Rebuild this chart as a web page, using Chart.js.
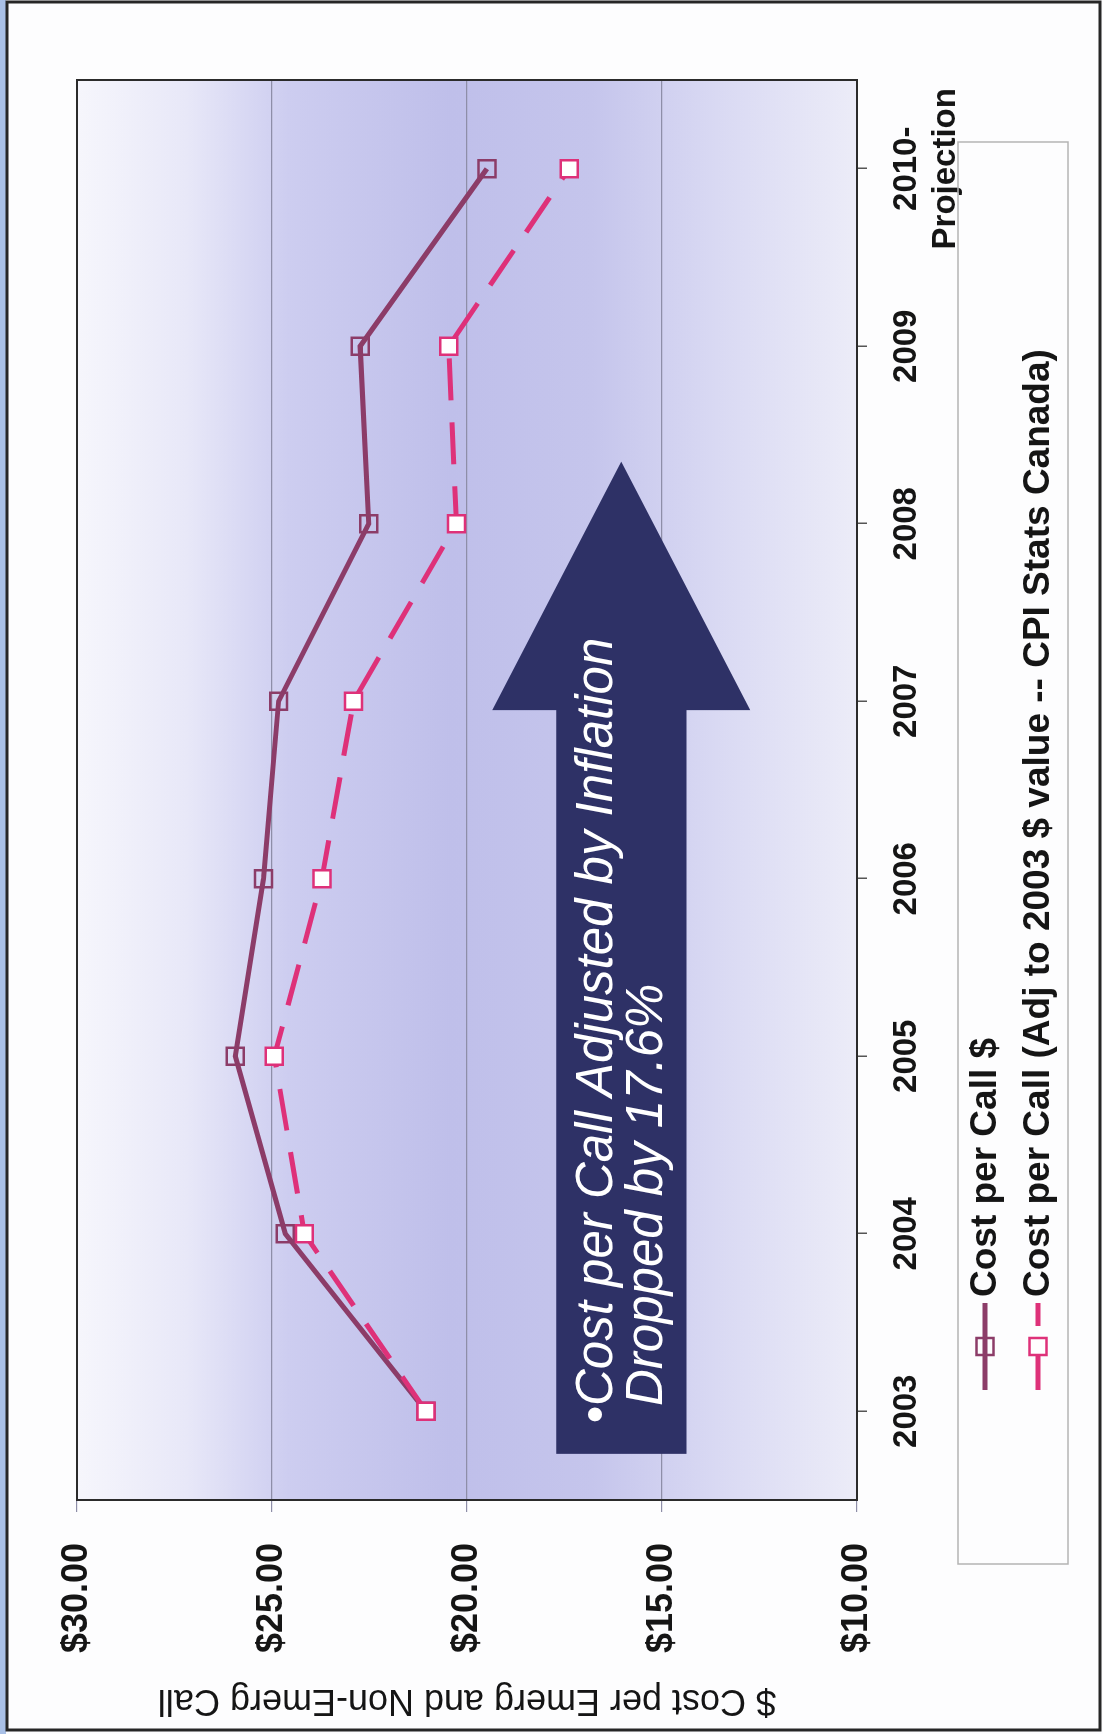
<!DOCTYPE html>
<html>
<head>
<meta charset="utf-8">
<script src="https://cdn.jsdelivr.net/npm/chart.js@4.4.0/dist/chart.umd.min.js"></script>
<style>
  html, body { margin: 0; padding: 0; background: #ffffff; overflow: hidden; }
  /* the slide is landscape; the scan shows it turned a quarter turn */
  #hoja { position: absolute; left: 0; top: 0; width: 1734px; height: 1103px;
          transform-origin: 0 0; transform: translate(0, 1734px) rotate(-90deg); }
</style>
</head>
<body>
<div id="hoja"><canvas id="graficoCosto" width="1734" height="1103"></canvas></div>
<script>
// data
const anios = ['2003', '2004', '2005', '2006', '2007', '2008', '2009', ['2010-', 'Projection']];
const costoPorLlamada = [21.05, 24.66, 25.94, 25.22, 24.83, 22.52, 22.74, 19.49];
const costoAjustado = [21.05, 24.17, 24.94, 23.72, 22.91, 20.27, 20.47, 17.38];
const ejeMin = 10, ejeMax = 30, ejePaso = 5;

const colorReal = '#8c3c68';
const colorAjustado = '#de3179';
const fuente = '"Liberation Sans", Arial, sans-serif';

// big arrow annotation (category index / dollar units)
const flecha = { desde: -0.24, base: 3.95, punta: 5.35, cuerpoArriba: 17.71, cuerpoAbajo: 14.37, cabezaArriba: 19.35, cabezaAbajo: 12.74 };

const fondoPlugin = {
    id: 'fondo',
    beforeDraw(chart) {
        const { ctx, chartArea: a, width, height } = chart;
        ctx.save();
        ctx.fillStyle = '#fdfdfe';
        ctx.fillRect(0, 0, width, height);
        ctx.fillStyle = '#a9c0e6';
        ctx.fillRect(0, 0, width, 6);
        const g = ctx.createLinearGradient(0, a.top, 0, a.bottom);
        g.addColorStop(0, '#f6f6fc');
        g.addColorStop(0.14, '#e8e8f8');
        g.addColorStop(0.27, '#cdcdf0');
        g.addColorStop(0.48, '#bfbfea');
        g.addColorStop(0.66, '#c5c5ec');
        g.addColorStop(0.82, '#d9d9f3');
        g.addColorStop(1, '#ececf8');
        ctx.fillStyle = g;
        ctx.fillRect(a.left, a.top, a.right - a.left, a.bottom - a.top);
        ctx.strokeStyle = '#262626';
        ctx.lineWidth = 3;
        ctx.strokeRect(4, 7, width - 6, height - 10);
        ctx.restore();
    }
};

const flechaPlugin = {
    id: 'flecha',
    beforeDatasetsDraw(chart) {
        const { ctx, chartArea: a } = chart;
        const x = chart.scales.x, y = chart.scales.y;
        const x0 = x.getPixelForValue(flecha.desde);
        const xb = x.getPixelForValue(flecha.base);
        const xp = x.getPixelForValue(flecha.punta);
        const y1 = y.getPixelForValue(flecha.cuerpoArriba);
        const y2 = y.getPixelForValue(flecha.cuerpoAbajo);
        const h1 = y.getPixelForValue(flecha.cabezaArriba);
        const h2 = y.getPixelForValue(flecha.cabezaAbajo);
        const yc = (h1 + h2) / 2;
        ctx.save();
        ctx.fillStyle = '#2e3166';
        ctx.beginPath();
        ctx.moveTo(x0, y1);
        ctx.lineTo(xb, y1);
        ctx.lineTo(xb, h1);
        ctx.lineTo(xp, yc);
        ctx.lineTo(xb, h2);
        ctx.lineTo(xb, y2);
        ctx.lineTo(x0, y2);
        ctx.closePath();
        ctx.fill();

        ctx.fillStyle = '#ffffff';
        ctx.textBaseline = 'middle';
        ctx.font = 'italic 51px ' + fuente;
        const tx = x0 + 30;
        const yMid = (y1 + y2) / 2;
        ctx.fillText('•', tx, yMid - 24);
        const bw = ctx.measureText('•').width;
        ctx.fillText('Cost per Call Adjusted by Inflation', tx + bw, yMid - 24);
        ctx.fillText('Dropped by 17.6%', tx + bw, yMid + 26);

        // plot frame
        ctx.strokeStyle = '#2b2b2b';
        ctx.lineWidth = 2;
        ctx.strokeRect(a.left, a.top, a.right - a.left, a.bottom - a.top);
        ctx.restore();
    }
};

const leyendaPlugin = {
    id: 'leyenda',
    afterDraw(chart) {
        const { ctx } = chart;
        ctx.save();
        ctx.strokeStyle = '#b4b4b4';
        ctx.lineWidth = 1.5;
        ctx.strokeRect(170, 958, 1422, 110);
        const filas = [985, 1038];
        chart.data.datasets.forEach((ds, i) => {
            const yy = filas[i];
            ctx.strokeStyle = ds.borderColor;
            ctx.lineWidth = 5;
            ctx.setLineDash(ds.borderDash || []);
            ctx.beginPath();
            ctx.moveTo(344, yy);
            ctx.lineTo(431, yy);
            ctx.stroke();
            ctx.setLineDash([]);
            ctx.lineWidth = 2.5;
            ctx.fillStyle = ds.pointBackgroundColor;
            ctx.fillRect(379, yy - 8.5, 17, 17);
            ctx.strokeRect(379, yy - 8.5, 17, 17);
            ctx.fillStyle = '#151515';
            ctx.font = 'bold 37px ' + fuente;
            ctx.textBaseline = 'middle';
            ctx.fillText(ds.label, 437, yy + 1);
        });
        ctx.restore();
    }
};

const ctx = document.getElementById('graficoCosto').getContext('2d');
new Chart(ctx, {
    type: 'line',
    data: {
        labels: anios,
        datasets: [{
            label: 'Cost per Call $',
            data: costoPorLlamada,
            borderColor: colorReal,
            borderWidth: 5,
            tension: 0,
            fill: false,
            pointStyle: 'rect',
            pointRadius: 12,
            pointBorderWidth: 2.5,
            pointBorderColor: colorReal,
            pointBackgroundColor: 'rgba(0,0,0,0)',
            order: 1
        }, {
            label: 'Cost per Call (Adj to 2003 $ value -- CPI Stats Canada)',
            data: costoAjustado,
            borderColor: colorAjustado,
            borderWidth: 5,
            borderDash: [42, 22],
            tension: 0,
            fill: false,
            pointStyle: 'rect',
            pointRadius: 12,
            pointBorderWidth: 2.5,
            pointBorderColor: colorAjustado,
            pointBackgroundColor: '#ffffff',
            order: 0
        }]
    },
    options: {
        responsive: false,
        animation: false,
        layout: { padding: { left: 8, top: 77, right: 80, bottom: 0 } },
        plugins: {
            legend: { display: false },
            tooltip: { enabled: false }
        },
        scales: {
            x: {
                offset: true,
                grid: { drawOnChartArea: false, tickLength: 10, color: '#555', lineWidth: 1.5 },
                border: { display: false },
                ticks: { color: '#151515', padding: 20, maxRotation: 0, autoSkip: false,
                         font: { family: fuente, size: 33, weight: 'bold' } },
                afterFit(s) { s.height = 246; }
            },
            y: {
                min: ejeMin,
                max: ejeMax,
                grid: { color: '#8e8ea8', lineWidth: 1.2, tickLength: 12 },
                border: { display: false },
                ticks: {
                    stepSize: ejePaso,
                    padding: 31,
                    color: '#151515',
                    font: { family: fuente, size: 36, weight: 'bold' },
                    callback: v => '$' + v.toFixed(2)
                },
                title: {
                    display: true,
                    text: '$ Cost per Emerg and Non-Emerg Call',
                    color: '#151515',
                    font: { family: fuente, size: 36 },
                    padding: { top: 4, bottom: 0 }
                },
                afterFit(s) { s.width = 226; }
            }
        }
    },
    plugins: [fondoPlugin, flechaPlugin, leyendaPlugin]
});
</script>
</body>
</html>
